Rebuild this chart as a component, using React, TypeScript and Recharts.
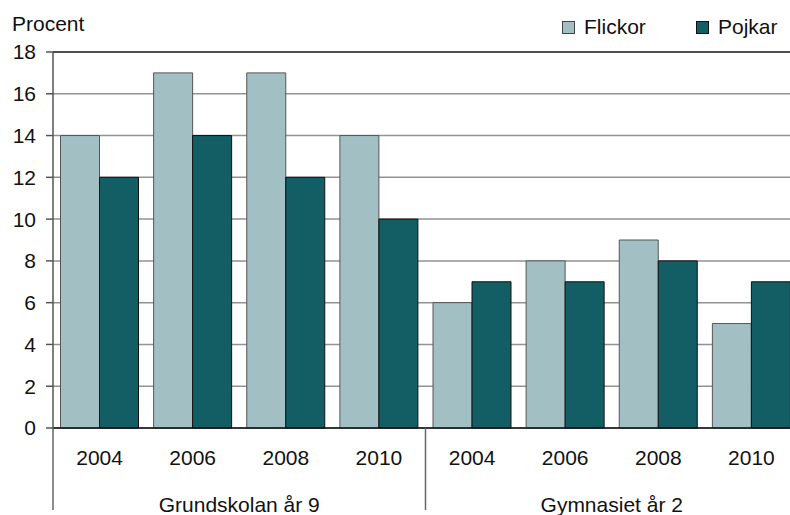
import { BarChart, Bar, XAxis, YAxis, CartesianGrid, ReferenceLine } from 'recharts';

const years = ['2004', '2006', '2008', '2010', '2004', '2006', '2008', '2010'];
const groups = [
  'Grundskolan år 9',
  'Grundskolan år 9',
  'Grundskolan år 9',
  'Grundskolan år 9',
  'Gymnasiet år 2',
  'Gymnasiet år 2',
  'Gymnasiet år 2',
  'Gymnasiet år 2',
];
const flickor = [14, 17, 17, 14, 6, 8, 9, 5];
const pojkar = [12, 14, 12, 10, 7, 7, 8, 7];
const yTicks = [0, 2, 4, 6, 8, 10, 12, 14, 16, 18];

const data = years.map((year, i) => ({
  year,
  group: groups[i],
  Flickor: flickor[i],
  Pojkar: pojkar[i],
}));

const FONT = '"Liberation Sans", Arial, sans-serif';
const LIGHT = '#A2C0C3';
const DARK = '#125E64';

function YearTick({ x, y, payload }: any) {
  return (
    <text x={x} y={y + 37} textAnchor="middle" fontSize={21} fill="#111" fontFamily={FONT}>
      {payload.value}
    </text>
  );
}

function GroupTick({ x, y, payload }: any) {
  const half = payload.offset ?? 186;
  const left = x - half;
  return (
    <g>
      <line x1={left} y1={y - 43} x2={left} y2={y + 39} stroke="#666" strokeWidth={1.5} />
      <text x={x} y={y + 41} textAnchor="middle" fontSize={21} fill="#111" fontFamily={FONT}>
        {payload.value}
      </text>
    </g>
  );
}

function LegendItem({ color, border, label, left }: { color: string; border: string; label: string; left: number }) {
  return (
    <div style={{ position: 'absolute', left, top: 15, display: 'flex', alignItems: 'center' }}>
      <span
        style={{
          display: 'inline-block',
          width: 11,
          height: 11,
          background: color,
          border: `1px solid ${border}`,
          marginRight: 9,
        }}
      />
      <span style={{ fontSize: 21, color: '#111' }}>{label}</span>
    </div>
  );
}

export default function App() {
  return (
    <div
      style={{
        position: 'absolute',
        left: 0,
        top: 0,
        width: 790,
        height: 515,
        overflow: 'hidden',
        background: '#fff',
        fontFamily: FONT,
      }}
    >
      <div style={{ position: 'absolute', left: 12, top: 12, fontSize: 21, color: '#111' }}>Procent</div>
      <LegendItem color={LIGHT} border="#444" label="Flickor" left={562} />
      <LegendItem color={DARK} border="#111" label="Pojkar" left={696} />
      <BarChart
        width={798}
        height={515}
        data={data}
        margin={{ top: 52, right: 0, left: 0, bottom: 0 }}
        barCategoryGap={7.5}
        barGap={0}
      >
        <CartesianGrid xAxisId={0} vertical={false} stroke="#929292" strokeWidth={1.5} />
        <XAxis
          xAxisId={0}
          dataKey="year"
          height={43}
          tick={<YearTick />}
          tickLine={false}
          tickSize={0}
          tickMargin={0}
          axisLine={{ stroke: '#111', strokeWidth: 1.5 }}
          interval={0}
        />
        <XAxis
          xAxisId={1}
          dataKey="group"
          allowDuplicatedCategory={false}
          height={44}
          tick={<GroupTick />}
          tickLine={false}
          tickSize={0}
          tickMargin={0}
          axisLine={false}
          interval={0}
        />
        <YAxis
          width={53}
          domain={[0, 18]}
          ticks={yTicks}
          interval={0}
          tickSize={7}
          tickMargin={10}
          tick={{ fontSize: 21, fill: '#111', fontFamily: FONT }}
          axisLine={{ stroke: '#555', strokeWidth: 1.5 }}
          tickLine={{ stroke: '#555', strokeWidth: 1.5 }}
        />
        <ReferenceLine xAxisId={0} y={18} stroke="#333" strokeWidth={1.5} />
        <Bar xAxisId={0} dataKey="Flickor" fill={LIGHT} stroke="#555" strokeWidth={1} isAnimationActive={false} />
        <Bar xAxisId={0} dataKey="Pojkar" fill={DARK} stroke="#111" strokeWidth={1} isAnimationActive={false} />
      </BarChart>
    </div>
  );
}
